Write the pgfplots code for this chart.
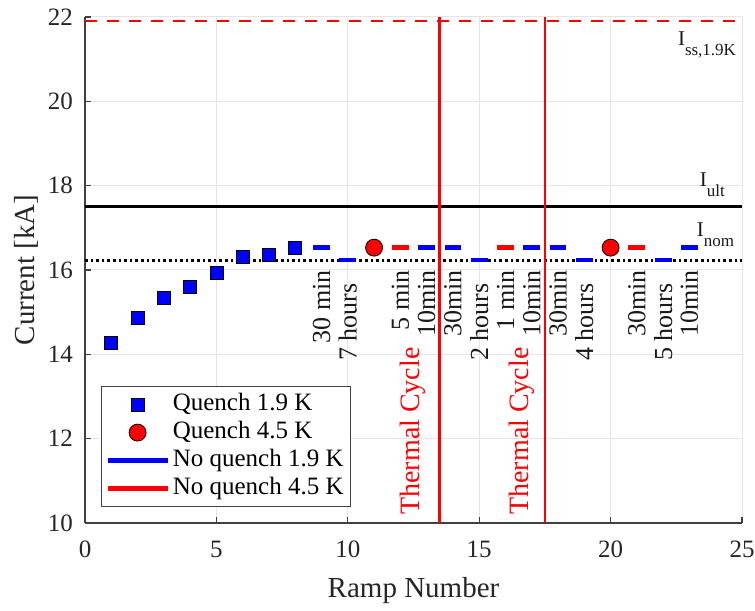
\documentclass[border=0pt]{standalone}
\usepackage{fontspec}
\setmainfont{Liberation Serif}
\usepackage{pgfplots}
\pgfplotsset{compat=1.18}
\pgfplotsset{
  markleg/.style={legend image code/.code={
    \path[draw=none, fill=none] (0pt,-3pt) rectangle (30pt,3pt);
    \draw[##1] plot coordinates {(15pt,0pt)};}},
  lineleg/.style={legend image code/.code={\draw[##1] (0pt,0pt) -- (30pt,0pt);}},
}

\begin{document}
\begin{tikzpicture}[font=\fontsize{12.5}{15}\selectfont]
\begin{axis}[
  name=ax,
  scale only axis,
  width=328.5pt, height=253pt,
  xmin=0, xmax=25, ymin=10, ymax=22,
  xtick={0,5,...,25}, ytick={10,12,...,22},
  axis x line*=bottom, axis y line*=left,
  axis line style={draw=black!75, line width=0.6pt},
  tick style={draw=black!75, line width=0.6pt},
  major tick length=3pt,
  tick align=inside,
  grid=major,
  major grid style={draw=black!10, line width=0.5pt},
  /pgf/number format/assume math mode=true,
  ticklabel style={font=\fontsize{12.5}{15}\selectfont, text=black!85},
  xticklabel style={yshift=-5.5pt, inner xsep=0pt},
  yticklabel style={xshift=-2.5pt},
  xlabel={Ramp Number}, ylabel={Current [kA]},
  label style={font=\fontsize{14.5}{17}\selectfont, text=black!85},
  xlabel shift=3pt,
  ylabel shift=-2pt,
  legend cell align=left,
  legend style={at={(rel axis cs:0,0)}, anchor=south west, xshift=8pt, yshift=8pt,
    draw=black!75, fill=white, inner xsep=2pt, inner ysep=2pt, row sep=0pt,
    font=\fontsize{12.5}{14}\selectfont,
    nodes={text height=9pt, text depth=3pt, inner ysep=1pt, inner xsep=1.5pt}},
]
% reference levels
\addplot[forget plot, red, line width=1.2pt, dash pattern=on 6pt off 5pt]
  coordinates {(0,21.9) (25,21.9)};
\addplot[forget plot, black, line width=1.5pt]
  coordinates {(0,17.5) (25,17.5)};
\addplot[forget plot, black, line width=1.3pt, dash pattern=on 1.3pt off 1.5pt]
  coordinates {(0,16.23) (25,16.23)};
% thermal cycles
\addplot[forget plot, red, line width=1.4pt] coordinates {(13.5,10) (13.5,22)};
\addplot[forget plot, red, line width=1.4pt] coordinates {(17.5,10) (17.5,22)};

% quenches
\addplot[only marks, mark=square*, mark size=3.25pt,
  mark options={fill=blue, draw=black, line width=0.4pt}, markleg]
  coordinates {(1,14.27) (2,14.86) (3,15.34) (4,15.60) (5,15.92) (6,16.31) (7,16.35) (8,16.52)};
\addlegendentry{Quench 1.9 K}
\addplot[only marks, mark=*, mark size=4.25pt,
  mark options={fill=red, draw=black, line width=0.4pt}, markleg]
  coordinates {(11,16.53) (20,16.53)};
\addlegendentry{Quench 4.5 K}

% ramps without quench
\addplot[blue, line width=2.2pt, unbounded coords=jump, lineleg]
  coordinates {
  (8.68,16.53) (9.32,16.53) (9,nan)
  (9.68,16.23) (10.32,16.23) (10,nan)
  (12.68,16.53) (13.32,16.53) (13,nan)
  (13.68,16.53) (14.32,16.53) (14,nan)
  (14.68,16.23) (15.32,16.23) (15,nan)
  (16.68,16.53) (17.32,16.53) (17,nan)
  (17.68,16.53) (18.32,16.53) (18,nan)
  (18.68,16.23) (19.32,16.23) (19,nan)
  (21.68,16.23) (22.32,16.23) (22,nan)
  (22.68,16.53) (23.32,16.53)
  };
\addlegendentry{No quench 1.9 K}
\addplot[red, line width=2.2pt, unbounded coords=jump, lineleg]
  coordinates {
  (11.68,16.53) (12.32,16.53) (12,nan)
  (15.68,16.53) (16.32,16.53) (16,nan)
  (20.68,16.53) (21.32,16.53)
  };
\addlegendentry{No quench 4.5 K}

% annotations
\begin{scope}[every node/.style={rotate=90, anchor=east, inner sep=0pt,
    font=\fontsize{13}{15}\selectfont, text=black!90}]
\node at (axis cs:9,16.0) {30 min};
\node at (axis cs:10,15.69) {7 hours};
\node at (axis cs:12,16.0) {5 min};
\node at (axis cs:13,16.0) {10min};
\node at (axis cs:14,16.0) {30min};
\node at (axis cs:15,15.69) {2 hours};
\node at (axis cs:16,16.0) {1 min};
\node at (axis cs:17,16.0) {10min};
\node at (axis cs:18,16.0) {30min};
\node at (axis cs:19,15.69) {4 hours};
\node at (axis cs:21,16.0) {30min};
\node at (axis cs:22,15.69) {5 hours};
\node at (axis cs:23,16.0) {10min};
\end{scope}
\node[rotate=90, anchor=west, inner sep=0pt, text=red, font=\fontsize{14}{16}\selectfont]
  at (axis cs:12.47,10.19) {Thermal Cycle};
\node[rotate=90, anchor=west, inner sep=0pt, text=red, font=\fontsize{14}{16}\selectfont]
  at (axis cs:16.62,10.19) {Thermal Cycle};
\node[anchor=base west, inner sep=0pt, font=\fontsize{10.5}{12}\selectfont, text=black!90]
  at (axis cs:22.55,21.33) {I\raisebox{-5pt}{\fontsize{8.5}{10}\selectfont ss,1.9K}};
\node[anchor=base west, inner sep=0pt, font=\fontsize{10.5}{12}\selectfont, text=black!90]
  at (axis cs:23.38,17.99) {I\raisebox{-5pt}{\fontsize{8.5}{10}\selectfont ult}};
\node[anchor=base west, inner sep=0pt, font=\fontsize{10.5}{12}\selectfont, text=black!90]
  at (axis cs:23.27,16.80) {I\raisebox{-5pt}{\fontsize{8.5}{10}\selectfont nom}};
\end{axis}
\path ([xshift=-42.5pt,yshift=-43.5pt]ax.south west) rectangle ([xshift=6.5pt,yshift=8.5pt]ax.north east);
\end{tikzpicture}
\end{document}
